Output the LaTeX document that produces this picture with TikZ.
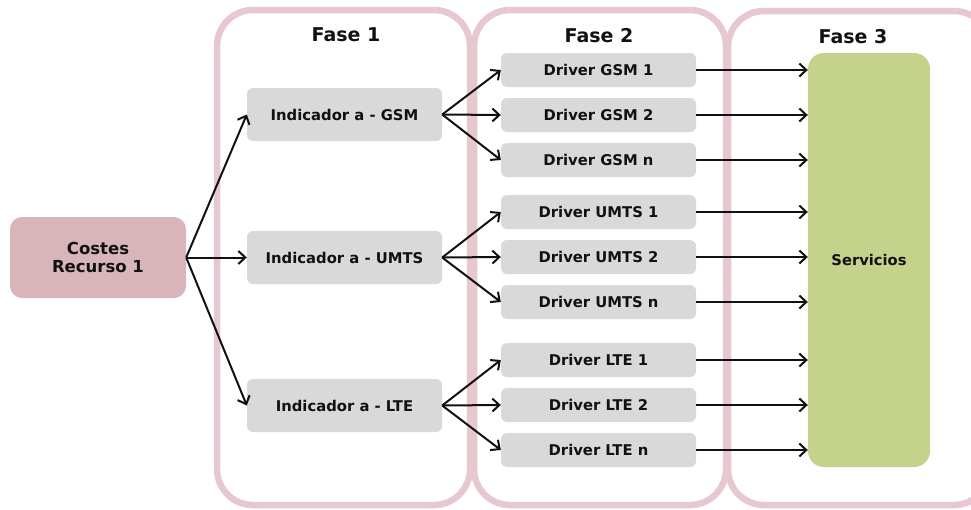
\documentclass[tikz,border=0pt]{standalone}
\usepackage{fontspec}
\setmainfont{DejaVu Sans}
\usetikzlibrary{arrows.meta}
\definecolor{phasepink}{HTML}{E6C8CE}
\definecolor{costfill}{HTML}{D7B5BA}
\definecolor{servfill}{HTML}{C4D28B}
\definecolor{boxgray}{HTML}{D9D9D9}
\definecolor{ink}{HTML}{111111}
\begin{document}
\begin{tikzpicture}[x=1pt,y=-1pt,
  phase/.style={draw=phasepink,line width=6.5pt,rounded corners=36pt},
  phasetitle/.style={font=\fontsize{19}{22}\selectfont\bfseries,text=ink},
  graybox/.style={fill=boxgray,rounded corners=6pt,font=\fontsize{14.8}{17}\selectfont\bfseries,text=ink},
  conn/.style={line width=2pt,draw=ink,-{Straight Barb[length=7pt,width=13pt,line width=2pt]}}
]
\useasboundingbox (0,0) rectangle (971,509);
% phase containers
\draw[phase] (217,10) rectangle (470,505);
\draw[phase] (474,10) rectangle (726,505);
\draw[phase] (728,11) rectangle (990,505);
\node[phasetitle] (t1) at (346,35) {Fase 1};
\node[phasetitle] (t2) at (599,36) {Fase 2};
\node[phasetitle] (t3) at (853,37) {Fase 3};
% source
\node[fill=costfill,rounded corners=12pt,minimum width=176pt,minimum height=81pt,align=center,text=ink,
  font=\fontsize{16.5}{18}\selectfont\bfseries] (cost) at (98,257.5) {Costes\\Recurso 1};
% indicators
\node[graybox,minimum width=195pt,minimum height=53pt] (iG) at (344.5,114.5) {Indicador a - GSM};
\node[graybox,minimum width=195pt,minimum height=53pt] (iU) at (344.5,257.5) {Indicador a - UMTS};
\node[graybox,minimum width=195pt,minimum height=53pt] (iL) at (344.5,405.5) {Indicador a - LTE};
% drivers
\foreach \n/\t/\y in {g1/Driver GSM 1/70, g2/Driver GSM 2/115, gn/Driver GSM n/160,
                      u1/Driver UMTS 1/212, u2/Driver UMTS 2/257, un/Driver UMTS n/302,
                      l1/Driver LTE 1/360, l2/Driver LTE 2/405, ln/Driver LTE n/450}
  \node[graybox,minimum width=195pt,minimum height=34pt] (\n) at (598.5,\y) {\t};
% services
\node[fill=servfill,rounded corners=16pt,minimum width=122pt,minimum height=414pt,text=ink,
  font=\fontsize{14.7}{17}\selectfont\bfseries] (serv) at (869,260) {Servicios};
% connectors
\draw[conn] (cost.east) -- (iG.west);
\draw[conn] (cost.east) -- (iU.west);
\draw[conn] (cost.east) -- (iL.west);
\foreach \s/\d in {iG/g1,iG/g2,iG/gn,iU/u1,iU/u2,iU/un,iL/l1,iL/l2,iL/ln}
  \draw[conn] (\s.east) -- (\d.west);
\foreach \d in {g1,g2,gn,u1,u2,un,l1,l2,ln}
  \draw[conn] (\d.east) -- (serv.west |- \d.east);
\end{tikzpicture}
\end{document}
